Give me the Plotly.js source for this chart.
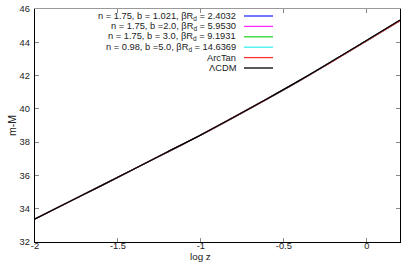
<!DOCTYPE html>
<html><head><meta charset="utf-8">
<script src="https://cdn.plot.ly/plotly-3.0.1.min.js"></script>
<style>html,body{margin:0;padding:0;background:#fff}#chart{width:414px;height:262px}</style>
</head><body><div id="chart"></div>
<script>
// log z sample points
const logz = [-2.0, -1.8, -1.6, -1.4, -1.2, -1.0, -0.8, -0.6, -0.4, -0.2, 0.0, 0.2];
// distance modulus m-M
const lcdm   = [33.38, 34.39, 35.39, 36.40, 37.42, 38.44, 39.51, 40.61, 41.74, 42.92, 44.12, 45.34];
const arctan = [33.38, 34.39, 35.39, 36.40, 37.42, 38.43, 39.50, 40.60, 41.72, 42.90, 44.09, 45.30];
const model1 = [33.38, 34.39, 35.39, 36.40, 37.42, 38.43, 39.50, 40.60, 41.73, 42.91, 44.10, 45.31];
const model2 = [33.38, 34.39, 35.39, 36.40, 37.42, 38.43, 39.50, 40.60, 41.73, 42.91, 44.10, 45.31];
const model3 = [33.38, 34.39, 35.39, 36.40, 37.42, 38.43, 39.50, 40.60, 41.73, 42.91, 44.10, 45.31];
const model4 = [33.38, 34.39, 35.39, 36.40, 37.42, 38.43, 39.50, 40.60, 41.73, 42.91, 44.10, 45.31];

const names = [
  'n = 1.75, b = 1.021, βR<sub>d</sub> = 2.4032',
  'n = 1.75, b =2.0, βR<sub>d</sub> = 5.9530',
  'n = 1.75, b = 3.0, βR<sub>d</sub> = 9.1931',
  'n = 0.98, b =5.0, βR<sub>d</sub> = 14.6369',
  'ArcTan',
  'ΛCDM'
];
const series = [model1, model2, model3, model4, arctan, lcdm];
const colors = ['#2b2bff', '#ff2bff', '#2bd62b', '#3af0f0', '#ff3030', '#000000'];

const xTicks = [-2, -1.5, -1, -0.5, 0];
const xTickText = ['-2', '-1.5', '-1', '-0.5', '0'];
const yTicks = [32, 34, 36, 38, 40, 42, 44, 46];
const xTitle = 'log z';
const yTitle = 'm-M';

const traces = series.map((s, i) => ({
  x: logz, y: s, type: 'scatter', mode: 'lines', name: names[i],
  line: {color: colors[i], width: 1.3, shape: 'spline', smoothing: 1},
  showlegend: false, hoverinfo: 'skip'
}));

// legend (gnuplot style: text right, sample line on right)
const W = 414, H = 262, L = 35, R = 400, T = 9, B = 242;
const px = v => (v - L) / (R - L);
const py = v => (B - v) / (B - T);
const rows = [16, 26.4, 36.8, 47.2, 57.6, 68];
const FONT = 'Liberation Sans, Arial, sans-serif';
const annotations = names.map((n, i) => ({
  text: n, xref: 'paper', yref: 'paper', x: px(238), y: py(rows[i]),
  xanchor: 'right', yanchor: 'middle', showarrow: false,
  font: {family: FONT, size: 9.3, color: '#222'}
}));
annotations.push({
  text: xTitle, xref: 'paper', yref: 'paper', x: px(200), y: py(256),
  xanchor: 'center', yanchor: 'middle', showarrow: false,
  font: {family: FONT, size: 9.8, color: '#222'}
});
annotations.push({
  text: yTitle, xref: 'paper', yref: 'paper', x: px(12), y: py(126),
  xanchor: 'center', yanchor: 'middle', showarrow: false, textangle: -90,
  font: {family: FONT, size: 10.5, color: '#222'}
});
const shapes = names.map((n, i) => ({
  type: 'line', xref: 'paper', yref: 'paper', x0: px(244), x1: px(273),
  y0: py(rows[i]), y1: py(rows[i]), line: {color: colors[i], width: 1.3}
}));

const fontTick = {family: FONT, size: 9.3, color: '#222'};
const layout = {
  width: W, height: H,
  margin: {l: L, r: W - R, t: T, b: H - B, pad: 0},
  paper_bgcolor: '#fff', plot_bgcolor: '#fff',
  showlegend: false,
  xaxis: {
    range: [-2, 0.2], tickvals: xTicks, ticktext: xTickText,
    ticks: 'inside', ticklen: 4, tickcolor: '#888', tickwidth: 1,
    showline: true, linecolor: '#000', linewidth: 1.3, mirror: false,
    showgrid: false, zeroline: false, tickfont: fontTick,
    ticklabelstandoff: -5,
    automargin: false
  },
  yaxis: {
    range: [32, 46], tickvals: yTicks,
    ticks: 'inside', ticklen: 4, tickcolor: '#888', tickwidth: 1,
    showline: true, linecolor: '#000', linewidth: 1.3, mirror: false,
    showgrid: false, zeroline: false, tickfont: fontTick,
    ticklabelstandoff: 2,
    automargin: false
  },
  xaxis2: {
    overlaying: 'x', side: 'top', range: [-2, 0.2], tickvals: xTicks,
    showticklabels: false, ticks: 'inside', ticklen: 4, tickcolor: '#888',
    showline: true, linecolor: '#999', linewidth: 1, showgrid: false, zeroline: false
  },
  yaxis2: {
    overlaying: 'y', side: 'right', range: [32, 46], tickvals: yTicks,
    showticklabels: false, ticks: 'inside', ticklen: 4, tickcolor: '#888',
    showline: true, linecolor: '#000', linewidth: 1.3, showgrid: false, zeroline: false
  },
  annotations: annotations,
  shapes: shapes
};
traces.push({x: [], y: [], xaxis: 'x2', yaxis: 'y2', type: 'scatter', mode: 'lines', showlegend: false, hoverinfo: 'skip'});

Plotly.newPlot('chart', traces, layout, {staticPlot: true, displayModeBar: false});
</script></body></html>
